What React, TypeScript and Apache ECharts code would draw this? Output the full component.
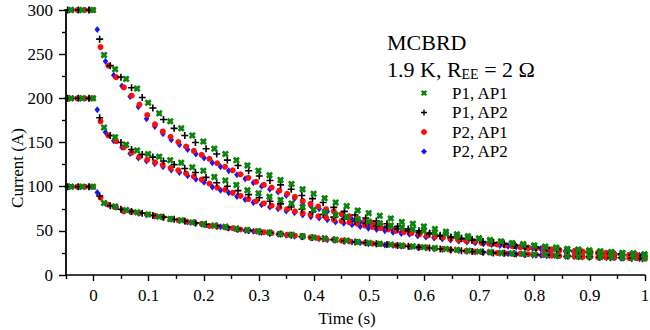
import React, { useEffect, useRef } from "react";
import * as echarts from "echarts";

const FONT = "'Liberation Serif', 'Times New Roman', serif";

const SERIES_NAMES = ["P1, AP1", "P1, AP2", "P2, AP1", "P2, AP2"];
const X_MAJOR = [0, 0.1, 0.2, 0.3, 0.4, 0.5, 0.6, 0.7, 0.8, 0.9, 1];
const X_MINOR = [-0.05, 0.05, 0.15, 0.25, 0.35, 0.45, 0.55, 0.65, 0.75, 0.85, 0.95];

// sampling grids (start time, step) of each probe pair
const P1AP1_T0 = -0.041, P1AP1_DT = 0.02;
const P1AP2_T0 = -0.0469, P1AP2_DT = 0.0193;
const P2AP1_T0 = -0.0437, P2AP1_DT = 0.0141;
const P2AP2_T0 = -0.038, P2AP2_DT = 0.0149;

const P1AP1_300 = [300,300,300,249,233,222,211,195,183,174,166,158,151,143,137,130,124,118,113,107.5,103,97,92,87,82,78,73,70,67,64,60,58,55,52,49,46,44,41.5,39.5,38,36,34,33,32,30,29,28,27,26,25.5,24.5,24,23];
const P1AP1_200 = [200,200,200,167,156,147.5,141,137,134,130,127,122,118,111,107,102,96,92.5,88.5,85,81,77,74,71,68,66,63,60.5,58.5,56,54,52,50,48,46.5,44,42.5,41,39,38,36,35,33.5,32,31,29.5,29,28,27,26,25,24.5,23.5];
const P1AP1_100 = [100,100,100,81.5,77.5,73.5,71,68.5,66,63.5,62,59.5,57.5,56,54.5,52.5,51,49.5,48,46.5,45.5,44,42.5,41.5,40,39,37.5,36.5,35.5,34.5,33.5,32.5,31.5,30.5,29.5,28.5,27.5,26.5,26,25,24.5,24,23.5,23,22,21.5,21,21,20.5,20,19.5,19.5,19];

const P1AP2_300 = [300,300,300,267,237,224,212,201,189,176,166,158,150,143,137,130,124,118,112,107,102,97,90,86.5,82,76.5,72,68,64.5,61,58,55,52,50,47.5,45,43,41.5,40,38,36.5,35,33.5,32,31,30,28.5,27.5,26.5,25.5,24.5,24,23,22.5,21.5];
const P1AP2_200 = [200,200,200,178,158,150,142,136.5,133.5,129,125,120.5,116,110.5,104.5,100.5,95.5,91,87.5,83.5,80.5,77,74.5,71.5,68.5,65.5,63.5,60.5,58.5,55.5,54,52,50,48,46.5,44,42.5,41,39.5,37.5,36.5,35,33.5,32.5,31.5,30.5,29.5,28,27.5,26.5,25.5,24.5,24,23,22];
const P1AP2_100 = [100,100,100,89.5,78.5,74.5,72,70,67.5,65.5,63,61,59,57.5,55.5,54,52,50.5,49,47.5,46.5,45,43.5,42.5,41,40,38.5,37.5,36.5,35.5,34.5,33.5,32.5,31.5,30.5,29.5,28.5,27.5,26.5,26,25,24.5,24,23.5,23,22.5,22,21.5,21,20.5,20,19.5,19.5,19,18.5];

const P2AP1_300 = [300,300,300,300,258,237,224,212.5,203,193,181,170.5,162.5,156.5,150.5,145.5,140.5,136,131.5,126.5,122.5,118.5,114,110,105.5,102,99,95.5,92,88.5,84,80.5,77.5,74.5,72,69,66.5,63.5,61,59,57,54.5,52,50.5,49,47,45.5,44,42.5,41.5,40,39,38,36.5,35.5,34.5,33.5,32.5,31.5,30.5,30,29,28,27.5,26.5,26,25.5,25,24.5,24,23.5,22.5,22,21.5,21];
const P2AP1_200 = [200,200,200,200,174,158,151.5,144.5,138.5,134,130.5,127.5,124.5,121,118.5,115,111.5,108,103.5,99,96.5,93,89.5,86,83.5,81,78.5,76.5,74.5,72,70,68.5,66.5,65,62.5,61,59.5,58,56,54.5,53,51.5,50,48.5,47.5,46,44.5,43.5,42.5,41,40,39,38,36.5,36,35,34,33,32,31,30.5,29.5,29,28.5,27.5,27,26.5,26,25.5,25,24.5,23.5,23,22.5,22];
const P2AP1_100 = [100,100,100,100,87.5,79.5,76.5,72,71.5,70,68.5,67,65.5,63.5,62,60.5,59.5,58,55.5,55,54,53,51.5,50.5,49.5,48.5,47.5,46.5,45.5,44.5,43.5,42.5,41.5,40.5,40,39,38,37.5,36.5,35.5,35,34.5,33.5,33,32,31.5,31,30,29.5,28.5,28,27,26.5,26,25.5,25,24.5,24,24,23.5,23,22.5,22,21.5,21.5,21,20.5,20.5,20,20,19.5,19.5,19,19,18.5];

const P2AP2_300 = [300,300,300,278,242,226,214,202,190.5,177,168,160,153,147.5,142,137,132.5,127,122.5,118,113.5,109,104.5,100.5,97,94,90,86.5,82,78,75,72,69,66,63,60,57.5,55.5,53,51,48.5,47,45,43.5,42.5,41,40,38.5,37.5,36.5,35.5,34.5,33.5,32.5,32,31,30.5,29.5,28.5,27.5,26.5,26,25.5,25,24.5,24,23,22.5,22,21.5];
const P2AP2_200 = [200,200,200,187,161.5,152,144.5,137.5,132.5,129,126,122.5,119,116,112.5,108.5,105,99.5,96,93,89,85.5,82,79.5,77,75,72.5,70.5,68,66,64.5,62.5,60,58.5,57,55,53,51.5,50,48.5,47,46,44.5,43,42,41,39.5,39,38,37,36,35,34,33.5,32.5,31.5,30.5,30,29,28.5,27.5,27,26.5,26,25.5,25,24,23.5,23,22.5];
const P2AP2_100 = [100,100,100,93.5,81,77.5,73.5,71.5,70,68,66.5,65,63,61.5,60,58.5,57,55.5,54.5,53,51.5,50.5,49.5,48,47,46,45,44,43,42,41,40,39.5,38.5,37.5,36.5,35.5,35,34,33.5,32.5,32,31,30.5,29.5,29,28,27.5,26.5,26,25.5,25,24.5,24,23.5,23,22.5,22.5,22,21.5,21,21,20.5,20.5,20,19.5,19.5,19,19,18.5];

const X_SYMBOL = "path://M0,2.5L2.5,0L5,2L7.5,0L10,2.5L8,5L10,7.5L7.5,10L5,8L2.5,10L0,7.5L2,5Z";
const PLUS_SYMBOL = "path://M3.85,0H6.15V3.85H10V6.15H6.15V10H3.85V6.15H0V3.85H3.85Z";

function pts(t0: number, dt: number, vals: number[]) {
  return vals.map((v, i) => [t0 + dt * i, v]);
}

export default function App() {
  const ref = useRef<HTMLDivElement>(null);
  useEffect(() => {
    if (!ref.current) return;
    const chart = echarts.init(ref.current, undefined, { renderer: "svg" });

    const groups = [
      { name: SERIES_NAMES[3], t0: P2AP2_T0, dt: P2AP2_DT, sets: [P2AP2_300, P2AP2_200, P2AP2_100], symbol: "diamond", size: [5.5, 7], color: "#1414ff" },
      { name: SERIES_NAMES[2], t0: P2AP1_T0, dt: P2AP1_DT, sets: [P2AP1_300, P2AP1_200, P2AP1_100], symbol: "circle", size: 6, color: "#ff0d0d" },
      { name: SERIES_NAMES[1], t0: P1AP2_T0, dt: P1AP2_DT, sets: [P1AP2_300, P1AP2_200, P1AP2_100], symbol: PLUS_SYMBOL, size: 7, color: "#000000" },
      { name: SERIES_NAMES[0], t0: P1AP1_T0, dt: P1AP1_DT, sets: [P1AP1_300, P1AP1_200, P1AP1_100], symbol: X_SYMBOL, size: 7, color: "#0b860b" },
    ];
    const series: any[] = [];
    groups.forEach((g) => {
      g.sets.forEach((vals) => {
        series.push({
          type: "scatter",
          name: g.name,
          xAxisIndex: 0,
          yAxisIndex: 0,
          symbol: g.symbol,
          symbolSize: g.size,
          itemStyle: { color: g.color, opacity: 1 },
          data: pts(g.t0, g.dt, vals),
          silent: true,
        });
      });
    });

    const tickStyle = { color: "#000", width: 1.4 };
    const labelStyle = { fontFamily: FONT, fontSize: 17, color: "#000" };

    chart.setOption({
      animation: false,
      backgroundColor: "#fff",
      grid: { left: 66, right: 5, top: 10, bottom: 55, containLabel: false, outerBoundsMode: "none" },
      legend: {
        data: SERIES_NAMES,
        orient: "vertical",
        left: 421,
        top: 84,
        padding: 0,
        itemWidth: 6,
        itemHeight: 6,
        itemGap: 1.5,
        selectedMode: false,
        textStyle: { fontFamily: FONT, fontSize: 17, color: "#000", lineHeight: 18, padding: [0, 0, 0, 20] },
      },
      xAxis: [
        {
          type: "value",
          min: -0.05,
          max: 1,
          position: "bottom",
          axisLine: { show: true, onZero: false, lineStyle: { color: "#000", width: 1.5 } },
          axisTick: { show: true, customValues: X_MAJOR, length: 6, lineStyle: tickStyle },
          axisLabel: {
            ...labelStyle,
            customValues: X_MAJOR,
            margin: 12,
            formatter: (v: number) => String(Math.round(v * 10) / 10),
          },
          splitLine: { show: false },
        },
        {
          type: "value",
          min: -0.05,
          max: 1,
          position: "bottom",
          axisLine: { show: false, onZero: false },
          axisTick: { show: true, customValues: X_MINOR, length: 4, lineStyle: tickStyle },
          axisLabel: { show: false },
          splitLine: { show: false },
        },
      ],
      yAxis: {
        type: "value",
        min: 0,
        max: 300,
        interval: 50,
        axisLine: { show: true, onZero: false, lineStyle: { color: "#000", width: 1.8 } },
        axisTick: { show: true, length: 7, lineStyle: tickStyle },
        minorTick: { show: true, splitNumber: 2, length: 4, lineStyle: tickStyle },
        axisLabel: { ...labelStyle, margin: 13 },
        splitLine: { show: false },
        minorSplitLine: { show: false },
      },
      graphic: [
        {
          type: "text",
          x: 387,
          y: 42,
          style: { text: "MCBRD", fontFamily: FONT, fontSize: 22, fill: "#000", align: "left", verticalAlign: "middle" },
        },
        {
          type: "text",
          x: 387,
          y: 69,
          style: {
            text: "{a|1.9 K, R}{s|EE}{a| = 2 Ω}",
            fontFamily: FONT,
            fontSize: 22,
            fill: "#000",
            align: "left",
            verticalAlign: "middle",
            rich: {
              a: { fontFamily: FONT, fontSize: 22, lineHeight: 24, fill: "#000" },
              s: { fontFamily: FONT, fontSize: 14, lineHeight: 13, verticalAlign: "bottom", fill: "#000" },
            },
          },
        },
        {
          type: "text",
          x: 17,
          y: 168,
          rotation: Math.PI / 2,
          style: { text: "Current (A)", fontFamily: FONT, fontSize: 17, fill: "#000", align: "center", verticalAlign: "middle" },
        },
        {
          type: "text",
          x: 347,
          y: 318,
          style: { text: "Time (s)", fontFamily: FONT, fontSize: 17, fill: "#000", align: "center", verticalAlign: "middle" },
        },
      ],
      series,
    });
    return () => chart.dispose();
  }, []);
  return <div ref={ref} style={{ position: "fixed", left: 0, top: 0, width: 650, height: 330 }} />;
}
